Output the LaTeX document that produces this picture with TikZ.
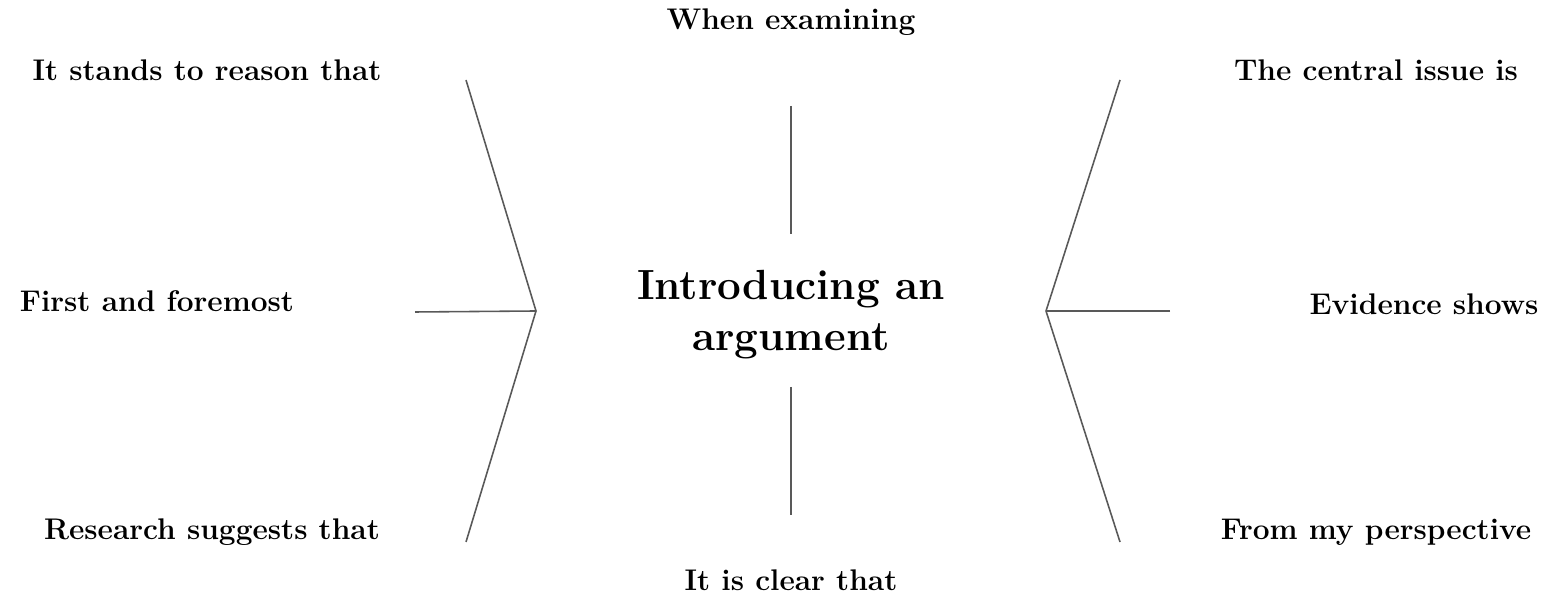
\documentclass[tikz,border=0pt]{standalone}
\usepackage{tikz}
\usetikzlibrary{positioning}
\tikzset{
    phrase/.style={font=\fontsize{17}{20}\selectfont\bfseries, inner sep=0},
    spoke/.style={draw=black!65, line width=0.9pt}
}

\begin{document}
\begin{tikzpicture}
        \useasboundingbox (0,0) rectangle (31.18,11.96);

        \node[align=center,
            font=\fontsize{24}{29}\selectfont\bfseries] (topic) at (15.82,5.66) {Introducing an\\argument};

        \node[phrase] (examining) at (15.82,11.52) {When examining};
        \node[phrase] (clear) at (15.82,0.36) {It is clear that};

        \node[phrase] (reason) at (4.14,10.56) {It stands to reason that};
        \node[phrase] (foremost) at (3.14,5.94) {First and foremost};
        \node[phrase] (research) at (4.24,1.32) {Research suggests that};

        \node[phrase] (issue) at (27.52,10.56) {The central issue is};
        \node[phrase] (evidence) at (28.48,5.88) {Evidence shows};
        \node[phrase] (perspective) at (27.52,1.32) {From my perspective};

% Spoke ends
        \coordinate (top-a) at (15.82,9.84);
        \coordinate (top-b) at (15.82,7.28);
        \coordinate (bot-a) at (15.82,4.22);
        \coordinate (bot-b) at (15.82,1.66);

        \coordinate (left-hub) at (10.72,5.74);
        \coordinate (left-1) at (9.32,10.36);
        \coordinate (left-2) at (8.30,5.72);
        \coordinate (left-3) at (9.32,1.12);

        \coordinate (right-hub) at (20.92,5.74);
        \coordinate (right-1) at (22.40,10.36);
        \coordinate (right-2) at (23.40,5.74);
        \coordinate (right-3) at (22.40,1.12);

% Lines
        \draw[spoke] (top-a) -- (top-b);
        \draw[spoke] (bot-a) -- (bot-b);

        \draw[spoke] (left-1) -- (left-hub) -- (left-3);
        \draw[spoke] (left-2) -- (left-hub);

        \draw[spoke] (right-1) -- (right-hub) -- (right-3);
        \draw[spoke] (right-2) -- (right-hub);

\end{tikzpicture}
\end{document}
